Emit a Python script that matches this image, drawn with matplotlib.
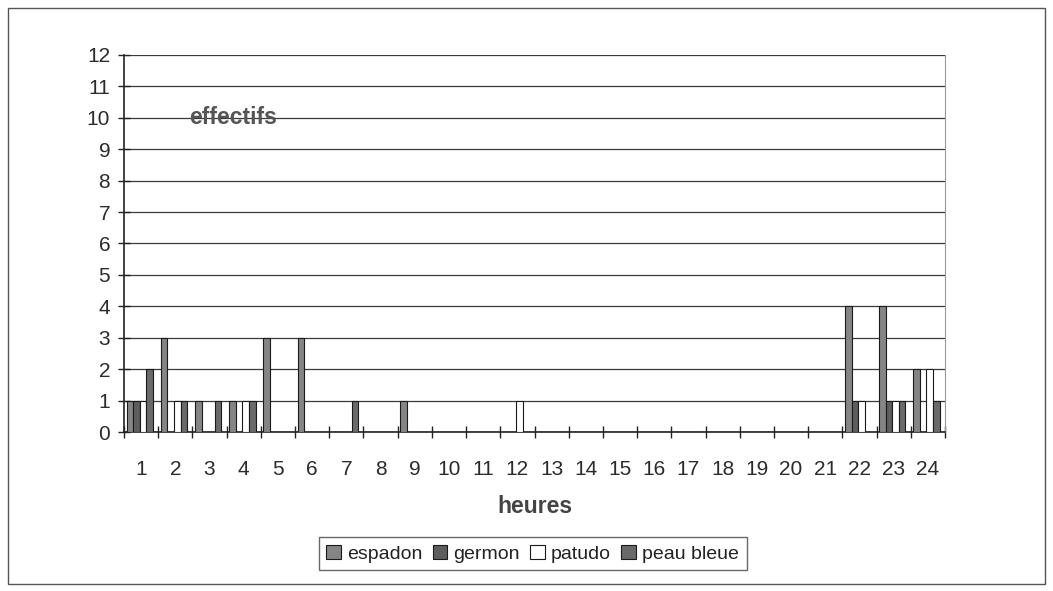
import matplotlib.pyplot as plt
import numpy as np
from matplotlib.patches import Rectangle

plt.rcParams["font.family"] = ["Liberation Sans", "DejaVu Sans"]

# Effectifs par heure et par espece
HOURS = [str(h) for h in range(1, 25)]
ESPADON = [1, 3, 1, 1, 3, 3, 0, 0, 1, 0, 0, 0, 0, 0, 0, 0, 0, 0, 0, 0, 0, 4, 4, 2]
GERMON = [1, 0, 0, 0, 0, 0, 0, 0, 0, 0, 0, 0, 0, 0, 0, 0, 0, 0, 0, 0, 0, 1, 1, 0]
PATUDO = [1, 1, 0, 1, 0, 0, 0, 0, 0, 0, 0, 1, 0, 0, 0, 0, 0, 0, 0, 0, 0, 1, 1, 2]
PEAU_BLEUE = [2, 1, 1, 1, 0, 0, 1, 0, 0, 0, 0, 0, 0, 0, 0, 0, 0, 0, 0, 0, 0, 0, 1, 1]

SERIES = [
    ("espadon", ESPADON, "#858585"),
    ("germon", GERMON, "#5e5e5e"),
    ("patudo", PATUDO, "#ffffff"),
    ("peau bleue", PEAU_BLEUE, "#6a6a6a"),
]

COLOR_TEXT = "#2b2b2b"
COLOR_GRID = "#3a3a3a"

fig = plt.figure(figsize=(10.53, 5.91), dpi=100)
ax = fig.add_axes([0.1178, 0.269, 0.7796, 0.638])

x = np.arange(len(HOURS))
width = 1 / 5.2
for i, (name, values, color) in enumerate(SERIES):
    ax.bar(x + (i - 1.5) * width - 0.04, values, width, color=color, edgecolor="#1a1a1a",
           linewidth=0.8, label=name, zorder=3)

ax.set_xlim(-0.5, len(HOURS) - 0.5)
ax.set_ylim(0, 12)
ax.set_yticks(range(0, 13))
ax.set_xticks(x)
ax.set_xticklabels(HOURS)
# graduations aux limites des groupes, croisant l'axe
ax.set_xticks(np.arange(-0.5, len(HOURS)), minor=True)
ax.tick_params(axis="x", which="major", length=0, pad=20, labelsize=15, labelcolor=COLOR_TEXT)
ax.tick_params(axis="x", which="minor", direction="inout", length=8, width=1, color="#222222")
ax.tick_params(axis="y", direction="inout", length=8, width=1, color="#222222",
               labelsize=15, labelcolor=COLOR_TEXT, pad=6)

ax.grid(axis="y", color=COLOR_GRID, linewidth=0.9, zorder=0)
ax.set_axisbelow(True)
ax.spines["top"].set_visible(False)
ax.spines["right"].set_color("#9a9a9a")
ax.spines["left"].set_color("#222222")
ax.spines["bottom"].set_color("#222222")
ax.spines["left"].set_linewidth(1.2)
ax.spines["bottom"].set_linewidth(1.2)

ax.text(1.4, 10, "effectifs", fontsize=16.5, fontweight="bold", color="#555555",
        ha="left", va="center", zorder=4)
ax.set_xlabel("heures", fontsize=16.5, fontweight="bold", color="#444444", labelpad=12)

leg = ax.legend(loc="upper center", bbox_to_anchor=(0.4976, -0.2785), ncol=4, frameon=True,
                fancybox=False, edgecolor="#444444", fontsize=14, handlelength=0.75,
                handleheight=0.75, handletextpad=0.3, columnspacing=0.55, borderpad=0.4,
                borderaxespad=0)
leg.get_frame().set_linewidth(1.0)
for t in leg.get_texts():
    t.set_color("#222222")

# cadre exterieur du graphique
fig.patches.append(Rectangle((8 / 1053, 7 / 591), 1037 / 1053, 576 / 591, transform=fig.transFigure,
                             fill=False, edgecolor="#555555", linewidth=1.0))

fig.savefig("out.png", dpi=100)
